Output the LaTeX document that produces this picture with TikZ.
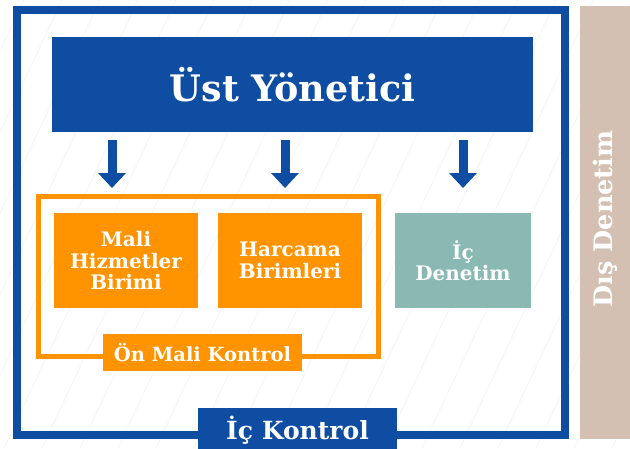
\documentclass[tikz,border=0pt]{standalone}
\usepackage{fontspec}
\setmainfont{DejaVu Serif}
\usetikzlibrary{arrows.meta}
\definecolor{ublue}{RGB}{14,77,161}
\definecolor{uorange}{RGB}{255,148,0}
\definecolor{uteal}{RGB}{138,185,180}
\definecolor{utan}{RGB}{212,192,178}
\begin{document}
\begin{tikzpicture}[x=1pt,y=-1pt,
  box/.style={text=white, font=\bfseries\fontsize{20}{21.5}\selectfont, align=center, inner sep=0pt},
  frame/.style={draw=#1, fill=none, inner sep=0pt},
  arr/.style={draw=ublue, line width=9pt, -{Triangle[length=15pt,width=27pt]}}]
\useasboundingbox (0,0) rectangle (630,448);
\fill[white] (0,0) rectangle (630,448);
\begin{scope}
\clip (0,0) rectangle (630,448);
\foreach \i in {-300,-262,...,700} \draw[black!4, line width=0.7pt] (\i,448) -- (\i+210,0);
\end{scope}
% frames
\node[frame=ublue, line width=8pt, minimum width=548, minimum height=425] (ick) at (291,222.5) {};
\node[frame=uorange, line width=5pt, minimum width=339.5, minimum height=160.5] (omkf) at (208.25,276.25) {};
% external audit bar
\fill[utan] (580,6) rectangle (632,439);
\node[box, rotate=90, font=\bfseries\fontsize{25.5}{28}\selectfont] (dis) at (605,219) {Dış Denetim};
% top box
\node[box, fill=ublue, minimum width=481, minimum height=95, font=\bfseries\fontsize{36.5}{40}\selectfont] (ust) at (292.5,84.5) {Üst Yönetici};
% unit boxes
\node[box, fill=uorange, minimum width=144, minimum height=95] (mhb) at (126,260.5) {Mali\\Hizmetler\\Birimi};
\node[box, fill=uorange, minimum width=144, minimum height=95] (hb) at (290,260.5) {Harcama\\Birimleri};
\node[box, fill=uteal, minimum width=136, minimum height=95] (icd) at (463,260.5) {İç\\Denetim};
% labels
\node[box, fill=uorange, minimum width=199, minimum height=37, font=\bfseries\fontsize{19.5}{21}\selectfont] (oml) at (202.5,352.5) {Ön Mali Kontrol};
\node[box, fill=ublue, minimum width=199, minimum height=44, anchor=north, font=\bfseries\fontsize{25}{28}\selectfont] (ickl) at (297.5,408) {İç Kontrol};
% arrows
\coordinate (t1) at (112,188);
\coordinate (t2) at (285,188);
\coordinate (t3) at (463,188);
\draw[arr, shorten <=8pt] (ust.south -| t1) -- (t1);
\draw[arr, shorten <=8pt] (ust.south -| t2) -- (t2);
\draw[arr, shorten <=8pt] (ust.south -| t3) -- (t3);
\end{tikzpicture}
\end{document}
